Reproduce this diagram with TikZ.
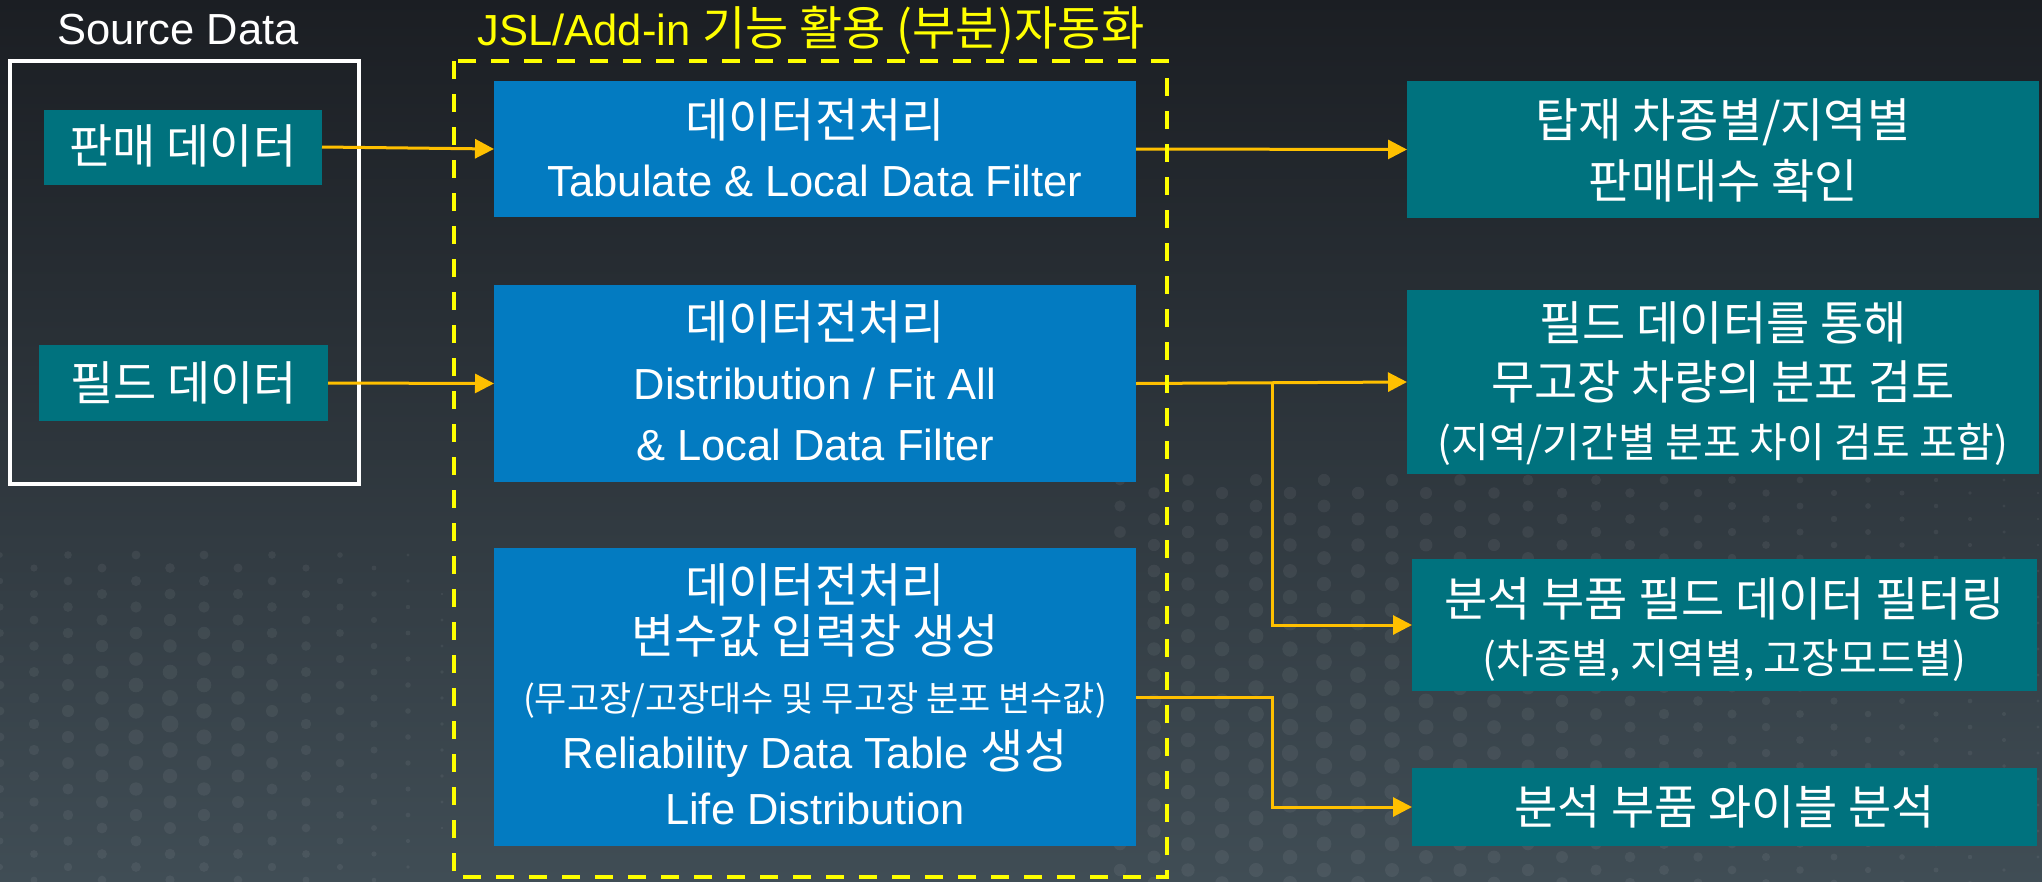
\documentclass[tikz,border=0pt]{standalone}
\usepackage{fontspec}
\setmainfont{Liberation Sans}
\newfontfamily\kr{Noto Sans CJK KR}
\usetikzlibrary{arrows.meta}

\definecolor{bgtop}{RGB}{27,30,35}
\definecolor{bgbottom}{RGB}{64,77,85}
\definecolor{boxblue}{RGB}{3,123,193}
\definecolor{boxteal}{RGB}{0,114,126}
\definecolor{arrowc}{RGB}{255,192,0}
\definecolor{markyellow}{RGB}{255,255,0}

\newcommand{\krbig}{\kr\fontsize{47}{56}\selectfont}

\tikzset{
  box/.style={rectangle, inner sep=0pt, outer sep=0pt, draw=none},
  bluebox/.style={box, fill=boxblue},
  tealbox/.style={box, fill=boxteal},
  txt/.style={text=white, anchor=base, inner sep=0pt, font=\fontsize{43.5}{52}\selectfont},
  ktxt/.style={txt, font=\krbig},
  kmid/.style={txt, font=\kr\fontsize{35}{42}\selectfont},
  kside/.style={txt, font=\kr\fontsize{41}{49}\selectfont},
  flow/.style={draw=arrowc, line width=3pt, -{Triangle[length=19pt,width=19pt]}},
  dotc/.style={fill=white, fill opacity=0.06},
}

\begin{document}
\begin{tikzpicture}[x=1pt, y=-1pt]
\useasboundingbox (0,0) rectangle (2042,881);

% background gradient
\shade[top color=bgtop, bottom color=bgbottom] (0,0) rectangle (2042,881);

% halftone dots, lower left
\foreach \i in {0,...,16}{
  \foreach \j in {0,...,13}{
    \pgfmathsetmacro\dx{\i*34}
    \pgfmathsetmacro\dy{555+\j*26+mod(\i,2)*13}
    \pgfmathsetmacro\dr{8.5-0.024*veclen(\dx-170,\dy-720)}
    \ifdim\dr pt>1.3pt \fill[dotc] (\dx,\dy) circle[radius=\dr pt]; \fi
  }
}
% halftone dots, lower right
\foreach \i in {0,...,27}{
  \foreach \j in {0,...,16}{
    \pgfmathsetmacro\dx{1120+\i*34}
    \pgfmathsetmacro\dy{480+\j*26+mod(\i,2)*13}
    \pgfmathsetmacro\dr{8.5-0.0095*veclen(\dx-1320,\dy-730)}
    \ifdim\dr pt>1.3pt \fill[dotc] (\dx,\dy) circle[radius=\dr pt]; \fi
  }
}

% titles
\node[txt] (srcT) at (178,44.5) {Source Data};
\node[txt, text=markyellow] (jslT) at (811,45) {JSL/Add-in {\krbig 기능 활용 (부분)자동화}};

% source data frame
\draw[white, line width=3.5pt] (10,61) rectangle (359,484);

% source boxes
\node[tealbox, minimum width=278pt, minimum height=75pt] (s1) at (183,147) {};
\node[ktxt] (s1t) at (183,163) {판매 데이터};
\node[tealbox, minimum width=289pt, minimum height=76pt] (s2) at (183.5,383) {};
\node[ktxt] (s2t) at (183.5,400) {필드 데이터};

% processing boxes
\node[bluebox, minimum width=642pt, minimum height=136pt] (b1) at (815,149) {};
\node[ktxt] (b1a) at (815,137) {데이터전처리};
\node[txt]  (b1b) at (815,196.5) {Tabulate \& Local Data Filter};

\node[bluebox, minimum width=642pt, minimum height=197pt] (b2) at (815,383.5) {};
\node[ktxt] (b2a) at (815,339) {데이터전처리};
\node[txt]  (b2b) at (815,399.5) {Distribution / Fit All};
\node[txt]  (b2c) at (815,460.5) {\& Local Data Filter};

\node[bluebox, minimum width=642pt, minimum height=298pt] (b3) at (815,697) {};
\node[ktxt] (b3a) at (815,602) {데이터전처리};
\node[ktxt] (b3b) at (815,653) {변수값 입력창 생성};
\node[kmid] (b3c) at (815,711.5) {(무고장/고장대수 및 무고장 분포 변수값)};
\node[txt]  (b3d) at (815,768.5) {Reliability Data Table {\krbig 생성}};
\node[txt]  (b3e) at (815,824.5) {Life Distribution};

% result boxes
\node[tealbox, minimum width=632pt, minimum height=137pt] (r1) at (1723,149.5) {};
\node[ktxt] (r1a) at (1723,137) {탑재 차종별/지역별};
\node[ktxt] (r1b) at (1723,198) {판매대수 확인};

\node[tealbox, minimum width=632pt, minimum height=184pt] (r2) at (1723,382) {};
\node[ktxt]  (r2a) at (1723,340) {필드 데이터를 통해};
\node[ktxt]  (r2b) at (1723,399) {무고장 차량의 분포 검토};
\node[kside] (r2c) at (1723,457.5) {(지역/기간별 분포 차이 검토 포함)};

\node[tealbox, minimum width=625pt, minimum height=132pt] (r3) at (1724.5,625) {};
\node[ktxt]  (r3a) at (1724.5,616) {분석 부품 필드 데이터 필터링};
\node[kside] (r3b) at (1724.5,673.5) {(차종별, 지역별, 고장모드별)};

\node[tealbox, minimum width=625pt, minimum height=78pt] (r4) at (1724.5,807) {};
\node[ktxt]  (r4a) at (1724.5,824) {분석 부품 와이블 분석};

% connectors
\coordinate (j1) at (1272,383);
\coordinate (j2) at (1272,697);
\draw[flow] (s1.east) -- (b1.west);
\draw[flow] (s2.east) -- (b2.west);
\draw[flow] (b1.east) -- (r1.west);
\draw[flow] (b2.east) -- (r2.west);
\draw[flow] (j1) |- (r3.west);
\draw[flow] (b3.east) -- (j2) |- (r4.west);

% automation frame
\draw[markyellow, line width=4.5pt, dash pattern=on 18pt off 15pt] (454,61) rectangle (1167,877);
\end{tikzpicture}
\end{document}
